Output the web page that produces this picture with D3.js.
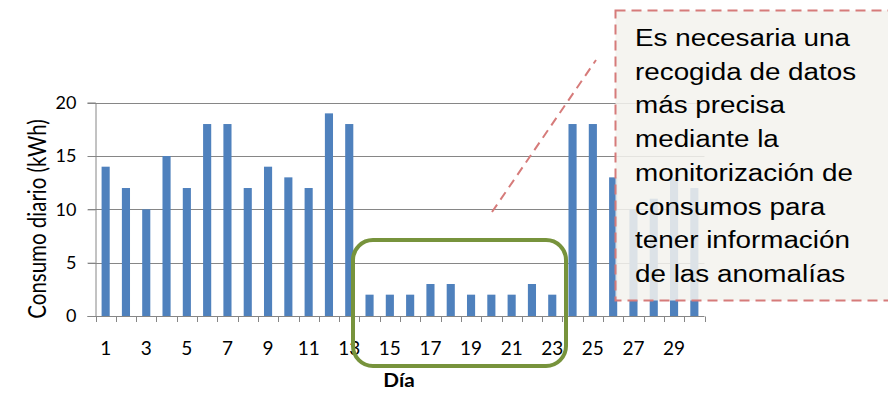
<!DOCTYPE html>
<html><head><meta charset="utf-8">
<script src="https://cdn.jsdelivr.net/npm/d3@7"></script>
<style>body{margin:0;background:#fff}svg{display:block}</style>
</head><body><svg id="c" width="888" height="395"></svg>
<script>
const days = d3.range(1, 31).map(String);
const consumo = [14,12,10,15,12,18,18,12,14,13,12,19,18,2,2,2,3,3,2,2,2,3,2,18,18,13,10,11,13,12];
const yTicks = [0,5,10,15,20];
const calloutLines = ["Es necesaria una","recogida de datos","más precisa","mediante la","monitorización de","consumos para","tener información","de las anomalías"];
const yLabel = "Consumo diario (kWh)";
const xLabel = "Día";

const svg = d3.select("#c");
const x = d3.scaleBand().domain(days).range([95.5, 704.5]).paddingInner(0.6).paddingOuter(0.3);
const y = d3.scaleLinear().domain([0, 20]).range([316, 102.7]);
const font = "Lato, 'Open Sans', sans-serif";

// gridlines
svg.append("g").selectAll("line").data(yTicks.slice(1)).join("line")
  .attr("x1", 88).attr("x2", 704.5)
  .attr("y1", d => Math.round(y(d)) + 0.5).attr("y2", d => Math.round(y(d)) + 0.5)
  .attr("stroke", "#868686").attr("stroke-width", 1);

// bars
svg.append("g").selectAll("rect").data(consumo).join("rect")
  .attr("x", (d, i) => x(days[i])).attr("width", x.bandwidth())
  .attr("y", d => y(d)).attr("height", d => y(0) - y(d))
  .attr("fill", "#4f81bd");

// y axis
const yAxis = d3.axisLeft(y).tickValues(yTicks).tickSize(8).tickPadding(11);
const gy = svg.append("g").attr("transform", "translate(95.5,0)").call(yAxis);
gy.select(".domain").attr("stroke", "#868686");
gy.selectAll(".tick line").attr("stroke", "#868686");
gy.selectAll("text").attr("font-family", font).attr("font-size", 18).attr("fill", "#000");

// x axis line
svg.append("line").attr("x1", 88).attr("x2", 704.5).attr("y1", 316.5).attr("y2", 316.5).attr("stroke", "#868686");
// x ticks at band boundaries
const step = x.step();
svg.append("g").selectAll("line").data(d3.range(0, 31)).join("line")
  .attr("x1", i => Math.round(95.5 + i * step) + 0.5).attr("x2", i => Math.round(95.5 + i * step) + 0.5)
  .attr("y1", 316.5).attr("y2", 322).attr("stroke", "#868686");
// x labels (odd days)
svg.append("g").selectAll("text").data(days.filter((d, i) => i % 2 === 0)).join("text")
  .attr("x", d => x(d) + x.bandwidth() / 2).attr("y", 355)
  .attr("text-anchor", "middle").attr("font-family", font).attr("font-size", 19).text(d => d);

// axis titles
svg.append("text").attr("transform", "translate(46,219) scale(1.2,1) rotate(-90)")
  .attr("text-anchor", "middle").attr("font-family", font).attr("font-size", 20.5).text(yLabel);
svg.append("text").attr("transform", "translate(399,387) scale(1.12,1)").attr("text-anchor", "middle")
  .attr("font-family", font).attr("font-size", 18.5).attr("font-weight", "bold").text(xLabel);

// green rounded rectangle
svg.append("rect").attr("x", 353).attr("y", 240).attr("width", 213).attr("height", 126)
  .attr("rx", 20).attr("ry", 20).attr("fill", "none").attr("stroke", "#77933c").attr("stroke-width", 4);

// callout pointer
svg.append("line").attr("x1", 492).attr("y1", 212).attr("x2", 596).attr("y2", 60)
  .attr("stroke", "#d67b7a").attr("stroke-width", 2).attr("stroke-dasharray", "9,6");

// callout box
svg.append("rect").attr("x", 615.5).attr("y", 10.5).attr("width", 290).attr("height", 290)
  .attr("fill", "#f3f2ee").attr("fill-opacity", 0.86)
  .attr("stroke", "#d67b7a").attr("stroke-width", 2).attr("stroke-dasharray", "10,6");
svg.append("g").selectAll("text").data(calloutLines).join("text")
  .attr("transform", (d, i) => `translate(635,${46 + i * 33.7}) scale(1.21,1)`)
  .attr("font-family", "'Liberation Sans', Arial, sans-serif").attr("font-size", 23).attr("fill", "#000")
  .text(d => d);
</script></body></html>
